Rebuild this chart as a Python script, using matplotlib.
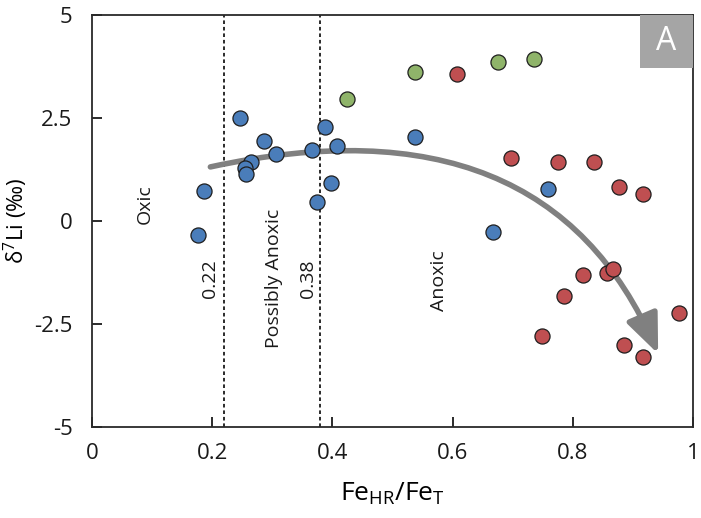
import matplotlib
matplotlib.use("Agg")
import matplotlib.pyplot as plt
from matplotlib.patches import FancyArrowPatch, Rectangle
from matplotlib.path import Path

plt.rcParams['font.family'] = ['Open Sans', 'DejaVu Sans']
plt.rcParams['mathtext.default'] = 'regular'

# Fe_HR/Fe_T vs d7Li by sample group
blue_x = [0.247, 0.287, 0.306, 0.265, 0.255, 0.257, 0.187, 0.177, 0.366,
          0.388, 0.407, 0.397, 0.375, 0.538, 0.758, 0.667]
blue_y = [2.50, 1.94, 1.62, 1.44, 1.29, 1.15, 0.73, -0.34, 1.72,
          2.27, 1.81, 0.93, 0.46, 2.04, 0.78, -0.28]

green_x = [0.425, 0.538, 0.676, 0.735]
green_y = [2.97, 3.62, 3.85, 3.94]

red_x = [0.607, 0.698, 0.776, 0.836, 0.877, 0.917, 0.817, 0.857, 0.867,
         0.786, 0.748, 0.977, 0.886, 0.917]
red_y = [3.57, 1.52, 1.43, 1.43, 0.83, 0.65, -1.31, -1.27, -1.17,
         -1.82, -2.80, -2.24, -3.02, -3.31]

# redox thresholds
thresholds = [0.22, 0.38]
threshold_labels = ['0.22', '0.38']

x_ticks = [0, 0.2, 0.4, 0.6, 0.8, 1]
x_ticklabels = ['0', '0.2', '0.4', '0.6', '0.8', '1']
y_ticks = [-5, -2.5, 0, 2.5, 5]
y_ticklabels = ['-5', '-2.5', '0', '2.5', '5']

# trend arrow: start, bend control, tip (quadratic Bezier, data units)
trend_x = [0.197, 0.756, 0.942]
trend_y = [1.31, 3.08, -3.23]

BLUE = '#4a7dba'
GREEN = '#8fb46a'
RED = '#bf4f51'
EDGE = '#1e1e1e'

fig = plt.figure(figsize=(7.01, 5.18), dpi=100)
ax = fig.add_axes([0.1312, 0.1763, 0.8574, 0.7947])

ax.set_xlim(0, 1)
ax.set_ylim(-5, 5)

# threshold lines
for t in thresholds:
    ax.axvline(t, color='#1a1a1a', lw=1.3, ls=(0, (2.0, 1.6)), zorder=1)

# curved trend arrow
verts = list(zip(trend_x, trend_y))
arrow_path = Path(verts, [Path.MOVETO, Path.CURVE3, Path.CURVE3])
arrow = FancyArrowPatch(path=arrow_path,
                        arrowstyle='-|>,head_length=24,head_width=10',
                        mutation_scale=1, lw=4.0, color='#808080',
                        zorder=2)
ax.add_patch(arrow)

sc_kw = dict(s=118, edgecolors=EDGE, linewidths=0.9, zorder=3)
ax.scatter(blue_x, blue_y, c=BLUE, **sc_kw)
ax.scatter(green_x, green_y, c=GREEN, **sc_kw)
ax.scatter(red_x, red_y, c=RED, **sc_kw)

# zone labels
txt_kw = dict(rotation=90, ha='center', va='center', fontsize=14,
              color='#1a1a1a')
ax.text(0.088, 0.40, 'Oxic', **txt_kw)
ax.text(0.197, -1.41, threshold_labels[0], **txt_kw)
ax.text(0.303, -1.39, 'Possibly Anoxic', **txt_kw)
ax.text(0.360, -1.40, threshold_labels[1], **txt_kw)
ax.text(0.578, -1.45, 'Anoxic', **txt_kw)

# panel tag
ax.add_patch(Rectangle((0.912, 0.872), 0.088, 0.128, transform=ax.transAxes,
                       facecolor='#a5a5a5', edgecolor='none', zorder=4))
ax.text(0.956, 0.936, 'A', transform=ax.transAxes, ha='center',
        va='center', fontsize=23, color='white', zorder=5)

ax.set_xticks(x_ticks)
ax.set_xticklabels(x_ticklabels)
ax.set_yticks(y_ticks)
ax.set_yticklabels(y_ticklabels)
ax.tick_params(direction='in', length=7, width=1.3, labelsize=16,
               colors='#1a1a1a', top=False, right=False)
ax.tick_params(axis='x', pad=12)
ax.tick_params(axis='y', pad=14)

for sp in ax.spines.values():
    sp.set_linewidth(1.3)
    sp.set_color('#2a2a2a')

ax.set_xlabel(r'Fe$_{HR}$/Fe$_{T}$', fontsize=19, labelpad=12)
ax.set_ylabel(r'δ$^{7}$Li (‰)', fontsize=16, labelpad=3)

fig.savefig('out.png', dpi=100)
